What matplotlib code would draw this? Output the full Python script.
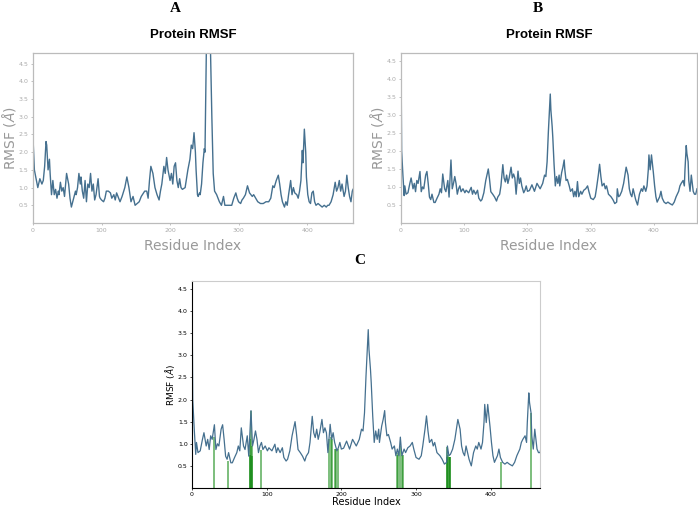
import numpy as np
import matplotlib.pyplot as plt

# panel A: residue index / RMSF
res_a = [0, 2, 4, 7, 10, 13, 15, 17, 19, 20, 22, 24, 25, 27, 29, 31, 33, 35, 37, 38,
         40, 42, 44, 46, 49, 52, 54, 56, 58, 60, 62, 63, 65, 67, 69, 70, 72, 74, 76, 78,
         80, 82, 84, 86, 88, 90, 92, 95, 97, 98, 100, 103, 105, 107, 110, 113, 115, 118, 120, 122,
         125, 127, 130, 134, 137, 140, 143, 146, 149, 152, 155, 158, 163, 166, 168, 170, 172, 175, 178, 181,
         184, 186, 188, 191, 193, 195, 197, 200, 202, 204, 206, 208, 210, 212, 214, 216, 218, 222, 226, 229,
         231, 233, 235, 237, 238, 240, 241, 243, 244, 246, 248, 250, 251, 253, 255, 257, 259, 261, 263, 265,
         268, 272, 275, 278, 280, 285, 290, 293, 296, 298, 300, 303, 305, 307, 310, 313, 316, 318, 320, 322,
         325, 328, 332, 336, 340, 344, 347, 350, 352, 355, 358, 360, 362, 364, 367, 369, 371, 373, 376, 378,
         380, 382, 385, 387, 389, 391, 393, 394, 396, 398, 399, 401, 403, 405, 407, 409, 411, 413, 416, 419,
         422, 425, 428, 430, 432, 435, 438, 441, 443, 445, 447, 449, 451, 454, 456, 458, 460, 462, 464, 466,
         467]
rmsf_a = [2.4, 1.5, 1.3, 1.0, 1.25, 1.1, 1.2, 1.6, 2.3, 2.2, 1.5, 1.8, 1.4, 0.8, 1.2, 0.8, 0.95, 0.7, 0.9, 0.8,
          1.15, 0.9, 1.0, 0.75, 1.4, 1.1, 0.7, 0.45, 0.6, 0.75, 0.9, 0.8, 1.0, 1.4, 1.1, 1.3, 0.9, 0.7, 1.2, 0.6,
          1.1, 1.0, 1.4, 0.9, 1.1, 0.65, 0.8, 1.25, 0.75, 0.7, 0.65, 0.6, 0.7, 0.9, 0.9, 0.85, 0.7, 0.8, 0.65, 0.85,
          0.7, 0.6, 0.75, 1.0, 1.3, 1.0, 0.6, 0.75, 0.5, 0.55, 0.6, 0.75, 0.9, 0.9, 0.7, 1.2, 1.6, 1.4, 1.0, 0.8,
          0.65, 0.9, 1.1, 1.6, 1.4, 1.85, 1.5, 1.2, 1.4, 1.1, 1.6, 1.7, 1.2, 1.0, 1.25, 1.0, 0.95, 1.0, 1.5, 1.8,
          2.2, 2.1, 2.55, 2.0, 1.5, 0.8, 0.75, 0.85, 0.8, 1.1, 1.7, 2.1, 2.0, 4.9, 5.8, 5.5, 4.9, 3.0, 1.4, 0.9,
          0.8, 0.6, 0.5, 0.75, 0.5, 0.5, 0.5, 0.7, 0.85, 0.7, 0.6, 0.55, 0.65, 0.7, 0.8, 1.05, 0.85, 0.8, 0.75, 0.8,
          0.7, 0.6, 0.55, 0.55, 0.6, 0.6, 0.7, 1.05, 1.0, 1.2, 1.35, 1.1, 0.8, 0.6, 0.45, 0.6, 0.5, 0.8, 1.2, 0.8,
          1.0, 0.85, 0.8, 0.7, 0.9, 1.2, 2.05, 1.7, 2.65, 2.0, 1.3, 0.8, 0.6, 0.55, 0.85, 0.9, 0.6, 0.5, 0.55, 0.5,
          0.45, 0.5, 0.45, 0.5, 0.5, 0.6, 0.8, 1.15, 0.9, 1.0, 1.2, 0.9, 1.1, 0.75, 0.9, 1.35, 1.0, 0.75, 0.6, 0.9,
          0.95]

# panels B and C show the same trajectory
res_b = [0, 1, 3, 5, 6, 8, 11, 14, 16, 19, 21, 23, 25, 27, 30, 32, 34, 36, 39, 41,
         43, 45, 47, 49, 52, 54, 57, 60, 62, 64, 66, 69, 71, 74, 76, 79, 81, 83, 85, 87,
         89, 91, 93, 95, 98, 101, 103, 107, 111, 113, 115, 118, 121, 123, 126, 128, 131, 134, 138, 140,
         142, 145, 148, 151, 153, 156, 158, 161, 163, 165, 167, 169, 171, 174, 176, 178, 180, 182, 185, 187,
         189, 191, 194, 196, 198, 200, 203, 207, 211, 215, 220, 224, 227, 229, 231, 233, 236, 237, 239, 240,
         242, 244, 246, 248, 250, 251, 254, 256, 258, 259, 261, 263, 266, 268, 271, 273, 275, 277, 279, 281,
         284, 286, 289, 292, 295, 297, 300, 304, 307, 309, 312, 314, 316, 318, 321, 323, 325, 328, 332, 335,
         338, 341, 342, 344, 346, 349, 352, 354, 356, 359, 361, 363, 365, 367, 371, 374, 377, 380, 382, 384,
         387, 389, 391, 392, 394, 396, 399, 401, 403, 405, 409, 411, 413, 416, 419, 422, 425, 429, 432, 435,
         439, 441, 443, 446, 448, 449, 451, 452, 454, 455, 457, 459, 460, 462, 464, 466, 468]
rmsf_b = [4.6, 2.0, 1.33, 0.76, 1.03, 0.8, 0.84, 1.1, 1.25, 0.95, 1.1, 0.87, 1.18, 1.1, 1.43, 0.87, 1.0, 0.95, 1.33, 1.43,
          1.1, 0.72, 0.65, 0.8, 0.57, 0.57, 0.69, 0.8, 0.95, 0.84, 1.36, 0.95, 0.87, 1.18, 0.72, 1.75, 0.95, 1.1, 1.29, 1.1,
          0.8, 0.95, 1.03, 0.87, 0.95, 0.84, 0.91, 0.84, 0.99, 0.8, 0.91, 0.8, 0.91, 0.69, 0.61, 0.65, 0.84, 1.18, 1.5, 1.21,
          0.87, 0.8, 0.72, 0.61, 0.72, 0.8, 1.03, 1.62, 1.25, 1.14, 1.33, 1.1, 1.25, 1.55, 1.25, 1.36, 1.25, 0.8, 1.44, 1.1,
          1.25, 1.03, 0.84, 0.91, 1.03, 0.88, 0.9, 1.06, 0.88, 1.1, 0.95, 1.1, 1.33, 1.29, 1.7, 2.53, 3.58, 3.13, 2.68, 2.38,
          1.63, 1.03, 1.29, 1.1, 1.33, 1.03, 1.4, 1.55, 1.75, 1.48, 1.18, 1.21, 1.03, 0.88, 0.95, 0.73, 0.88, 0.73, 1.15, 0.73,
          0.88, 0.8, 0.91, 0.95, 1.03, 0.88, 0.69, 0.65, 0.73, 0.95, 1.33, 1.63, 1.29, 1.03, 1.1, 0.95, 1.03, 0.8, 0.73, 0.65,
          0.54, 0.58, 0.95, 0.73, 0.76, 0.88, 1.1, 1.33, 1.55, 1.33, 0.95, 0.8, 0.73, 0.95, 0.65, 0.5, 0.8, 0.95, 0.88, 1.03,
          0.88, 1.03, 1.48, 1.89, 1.48, 1.89, 1.4, 1.03, 0.73, 0.58, 0.73, 0.88, 0.69, 0.58, 0.54, 0.58, 0.54, 0.5, 0.58, 0.73,
          0.88, 1.03, 1.1, 1.18, 1.03, 1.48, 2.15, 1.93, 1.7, 1.18, 0.88, 1.33, 1.18, 0.88, 0.8, 0.8, 0.95]

# ligand contacts in panel C
contact_res = [29, 48, 77, 78, 79, 80, 81, 92, 184, 186, 187, 191, 193, 195,
               274, 276, 279, 281, 283, 341, 342, 343, 344, 345, 346, 414, 454]
contact_h = [1.15, 0.62, 0.75, 1.1, 1.75, 0.95, 0.72, 0.85, 1.1, 1.15, 1.1, 0.88, 0.88, 0.88,
             0.75, 0.8, 0.95, 0.75, 0.75, 0.7, 0.93, 0.75, 0.7, 0.7, 0.7, 0.58, 1.7]

yticks = [0.5, 1.0, 1.5, 2.0, 2.5, 3.0, 3.5, 4.0, 4.5]
line_col = '#45708f'

W, H = 698, 507
fig = plt.figure(figsize=(W / 100, H / 100), dpi=100)


def box(l, t, r, b):
    return [l / W, 1 - b / H, (r - l) / W, (b - t) / H]


def gray_panel(ax, res, vals, xmax, ymax, ylab_x):
    ax.plot(res, vals, color=line_col, lw=1.0)
    ax.set_xlim(0, xmax)
    ax.set_ylim(0, ymax)
    ax.set_yticks(yticks)
    ax.set_xticks([0, 100, 200, 300, 400])
    ax.tick_params(labelsize=4.5, colors='#aaaaaa', length=1.5, width=0.5, pad=2)
    for s in ax.spines.values():
        s.set_color('#bbbbbb')
        s.set_linewidth(0.9)
    ax.set_xlabel('Residue Index', fontsize=10, color='#999999')
    ax.xaxis.set_label_coords(0.5, -0.095)
    ax.set_ylabel(r'RMSF ($\AA$)', fontsize=10, color='#999999', va='center')
    ax.yaxis.set_label_coords(ylab_x, 0.5)
    ax.set_title('Protein RMSF', fontsize=9.5, fontweight='bold',
                 family='Liberation Sans', pad=11)


axA = fig.add_axes(box(33, 53, 353, 223))
gray_panel(axA, res_a, rmsf_a, 467, 4.8, -0.075)
axB = fig.add_axes(box(401, 53, 697, 223))
gray_panel(axB, res_b, rmsf_b, 468, 4.72, -0.08)

axC = fig.add_axes(box(192, 281, 540, 488))
axC.vlines(contact_res, 0, contact_h, colors='green', lw=1.2, alpha=0.6)
axC.plot(res_b, rmsf_b, color=line_col, lw=0.9)
axC.set_xlim(0, 466)
axC.set_ylim(0, 4.68)
axC.set_yticks(yticks)
axC.set_xticks([0, 100, 200, 300, 400])
axC.tick_params(labelsize=4.5, length=1.5, width=0.5, pad=1.5)
for s in ['top', 'right']:
    axC.spines[s].set_color('#cccccc')
for s in axC.spines.values():
    s.set_linewidth(0.8)
axC.set_xlabel('Residue Index', fontsize=7, va='center')
axC.xaxis.set_label_coords(0.5, -0.07)
axC.set_ylabel(r'RMSF ($\AA$)', fontsize=6.5, va='center')
axC.yaxis.set_label_coords(-0.062, 0.5)

for lab, x, y in [('A', 175, 9), ('B', 538, 9), ('C', 360, 261)]:
    fig.text(x / W, 1 - y / H, lab, fontsize=11, fontweight='bold',
             family='Liberation Serif', ha='center', va='center')

fig.savefig('out.png', dpi=100)
